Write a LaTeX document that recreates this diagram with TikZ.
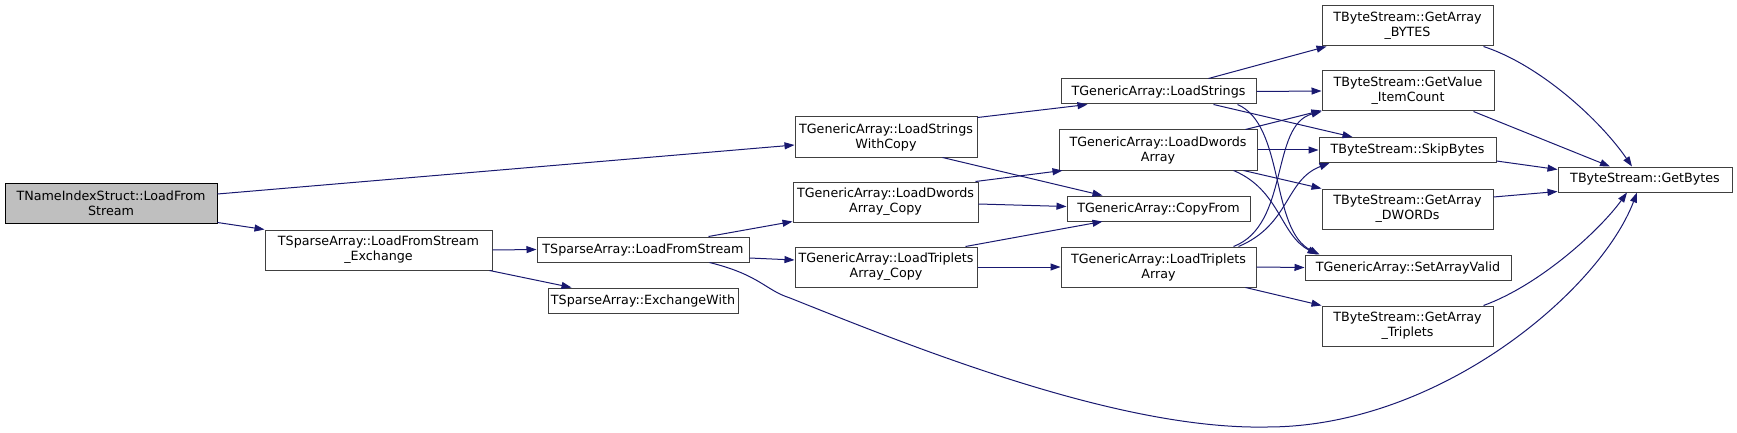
\documentclass[tikz,border=0pt]{standalone}
\usepackage{fontspec}
\setmainfont{DejaVu Sans}
\usetikzlibrary{arrows.meta}
\definecolor{edgeblue}{HTML}{191970}
\begin{document}
\begin{tikzpicture}[x=1pt,y=-1pt,
  fn/.style={draw=black!75,line width=1pt,fill=white,inner sep=0pt,align=center,
    font=\fontsize{12.7}{15}\selectfont},
  rootfn/.style={fn,draw=black,fill=black!25},
  call/.style={draw=edgeblue,line width=1pt,-{Triangle[length=10pt,width=7pt]}}]
\useasboundingbox (0,0) rectangle (1737,433);
% nodes
\node[rootfn,minimum width=212pt,minimum height=40pt] (root) at (111,203) {TNameIndexStruct::LoadFrom\\Stream};
\node[fn,minimum width=227pt,minimum height=40pt] (exch) at (378.5,250) {TSparseArray::LoadFromStream\\\_Exchange};
\node[fn,minimum width=212pt,minimum height=25pt] (lfs) at (643,249.5) {TSparseArray::LoadFromStream};
\node[fn,minimum width=190pt,minimum height=25pt] (exw) at (643,300.5) {TSparseArray::ExchangeWith};
\node[fn,minimum width=182pt,minimum height=40pt] (lswc) at (886,137) {TGenericArray::LoadStrings\\WithCopy};
\node[fn,minimum width=185pt,minimum height=40pt] (ldac) at (885.5,202) {TGenericArray::LoadDwords\\Array\_Copy};
\node[fn,minimum width=182pt,minimum height=40pt] (ltac) at (886,267) {TGenericArray::LoadTriplets\\Array\_Copy};
\node[fn,minimum width=195pt,minimum height=25pt] (ls) at (1158.5,91.5) {TGenericArray::LoadStrings};
\node[fn,minimum width=198pt,minimum height=40pt] (lda) at (1158,150) {TGenericArray::LoadDwords\\Array};
\node[fn,minimum width=183pt,minimum height=25pt] (cf) at (1158.5,208.5) {TGenericArray::CopyFrom};
\node[fn,minimum width=195pt,minimum height=40pt] (lta) at (1158.5,267) {TGenericArray::LoadTriplets\\Array};
\node[fn,minimum width=171pt,minimum height=40pt] (gab) at (1407.5,26) {TByteStream::GetArray\\\_BYTES};
\node[fn,minimum width=172pt,minimum height=40pt] (gvic) at (1408,91) {TByteStream::GetValue\\\_ItemCount};
\node[fn,minimum width=177pt,minimum height=25pt] (sb) at (1407.5,150) {TByteStream::SkipBytes};
\node[fn,minimum width=171pt,minimum height=40pt] (gad) at (1407.5,209) {TByteStream::GetArray\\\_DWORDs};
\node[fn,minimum width=206pt,minimum height=25pt] (sav) at (1408,267.5) {TGenericArray::SetArrayValid};
\node[fn,minimum width=171pt,minimum height=40pt] (gat) at (1407.5,326) {TByteStream::GetArray\\\_Triplets};
\node[fn,minimum width=174pt,minimum height=25pt] (gb) at (1645,179.5) {TByteStream::GetBytes};
% edges
\draw[call] ([yshift=9pt]root.east) -- ([yshift=-8pt]lswc.west);
\draw[call] ([yshift=1pt]root.south east) -- (exch.north west);
\draw[call] (exch.east) -- (lfs.west);
\draw[call] ([xshift=-3pt]exch.south east) -- ([xshift=24pt]exw.north west);
\draw[call] ([xshift=-41pt]lfs.north east) -- ([yshift=1pt]ldac.south west);
\draw[call] ([yshift=-8.5pt]lfs.east) -- ([yshift=7pt]ltac.west);
\draw[call] ([xshift=-40pt]lfs.south east) .. controls (760,275) and (765,290) .. (790,298)
  .. controls (920,350) and (1120,430) .. (1267,427)
  .. controls (1440,427) and (1600,290) .. ([xshift=-8pt]gb.south);
\draw[call] ([yshift=-1pt]lswc.north east) -- ([xshift=27pt]ls.south west);
\draw[call] ([xshift=-35pt]lswc.south east) -- ([xshift=36pt]cf.north west);
\draw[call] ([xshift=-3pt]ldac.north east) -- ([xshift=4pt]lda.south west);
\draw[call] ([yshift=-2pt]ldac.east) -- ([yshift=2pt]cf.west);
\draw[call] ([xshift=-12pt]ltac.north east) -- ([xshift=36pt]cf.south west);
\draw[call] (ltac.east) -- (lta.west);
\draw[call] ([xshift=-48pt]ls.north east) -- ([xshift=5pt]gab.south west);
\draw[call] (ls.east) -- (gvic.west);
\draw[call] ([xshift=-43pt]ls.south east) -- ([xshift=34pt]sb.north west);
\draw[call] ([xshift=-19pt]ls.south east) .. controls (1285,125) and (1270,230) .. ([xshift=15pt]sav.north west);
\draw[call] ([xshift=-12pt]lda.north east) -- ([yshift=1pt]gvic.south west);
\draw[call] (lda.east) -- (sb.west);
\draw[call] ([xshift=-14pt]lda.south east) -- (gad.north west);
\draw[call] ([xshift=-24pt]lda.south east) .. controls (1280,190) and (1280,235) .. ([xshift=13pt]sav.north west);
\draw[call] ([xshift=-23pt]lta.north east) .. controls (1290,225) and (1270,125) .. (gvic.south west);
\draw[call] ([xshift=-18pt]lta.north east) .. controls (1290,225) and (1285,180) .. ([xshift=11pt]sb.south west);
\draw[call] (lta.east) -- (sav.west);
\draw[call] ([xshift=-11pt]lta.south east) -- (gat.north west);
\draw[call] ([xshift=-10pt]gab.south east) .. controls (1540,65) and (1600,120) .. ([xshift=-13pt]gb.north);
\draw[call] ([xshift=-21pt]gvic.south east) -- ([xshift=-35pt]gb.north);
\draw[call] ([yshift=2pt]sb.south east) -- ([yshift=-3pt]gb.north west);
\draw[call] ([yshift=12pt]gad.east) -- ([yshift=1pt]gb.south west);
\draw[call] ([xshift=-10pt]gat.north east) .. controls (1540,285) and (1600,230) .. ([xshift=-18pt]gb.south);
\end{tikzpicture}
\end{document}
